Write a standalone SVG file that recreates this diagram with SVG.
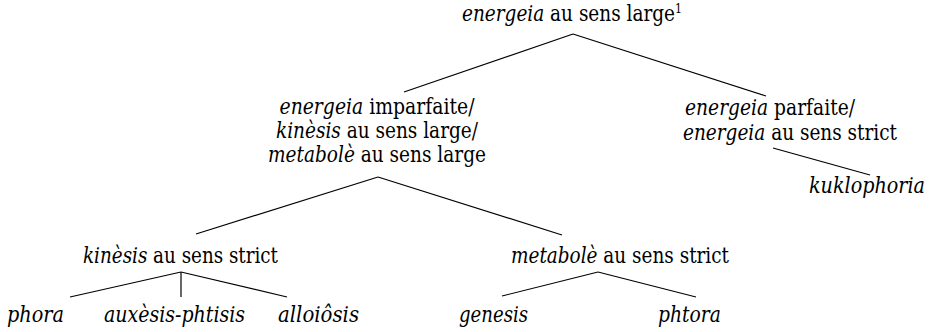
<svg xmlns="http://www.w3.org/2000/svg" width="929" height="332" viewBox="0 0 929 332">
<style>
text { font-family: "DejaVu Serif Condensed", "DejaVu Serif", serif; font-size: 22px; fill: #000; }
.i { font-style: italic; }
.c { text-anchor: middle; }
.sup { font-size: 13px; }
line { stroke: #000; stroke-width: 1.2; }
</style>
<rect width="929" height="332" fill="#fff"/>
<g id="connectors">
  <line x1="573" y1="34" x2="404" y2="92"/>
  <line x1="573" y1="34" x2="766" y2="96"/>
  <line x1="773" y1="148" x2="870" y2="175"/>
  <line x1="378" y1="177" x2="196" y2="234"/>
  <line x1="378" y1="177" x2="562" y2="235"/>
  <line x1="181" y1="272" x2="70" y2="297"/>
  <line x1="181" y1="272" x2="181" y2="297"/>
  <line x1="181" y1="272" x2="287" y2="297"/>
  <line x1="598" y1="272" x2="502" y2="296"/>
  <line x1="598" y1="272" x2="696" y2="297"/>
</g>
<g id="n-root">
  <text x="462" y="21" textLength="220" lengthAdjust="spacingAndGlyphs"><tspan class="i">energeia</tspan> au sens large<tspan class="sup" dy="-8">1</tspan></text>
</g>
<g id="n-imparfaite">
  <text class="c" x="377" y="114" textLength="195" lengthAdjust="spacingAndGlyphs"><tspan class="i">energeia</tspan> imparfaite/</text>
  <text class="c" x="377" y="138" textLength="202" lengthAdjust="spacingAndGlyphs"><tspan class="i">kinèsis</tspan> au sens large/</text>
  <text class="c" x="377" y="162" textLength="218" lengthAdjust="spacingAndGlyphs"><tspan class="i">metabolè</tspan> au sens large</text>
</g>
<g id="n-parfaite">
  <text x="685" y="115" textLength="170" lengthAdjust="spacingAndGlyphs"><tspan class="i">energeia</tspan> parfaite/</text>
  <text x="683" y="140" textLength="214" lengthAdjust="spacingAndGlyphs"><tspan class="i">energeia</tspan> au sens strict</text>
</g>
<g id="n-kuklophoria"><text class="i" x="809" y="193" textLength="116" lengthAdjust="spacingAndGlyphs">kuklophoria</text></g>
<g id="n-kinesis"><text x="83" y="263" textLength="195" lengthAdjust="spacingAndGlyphs"><tspan class="i">kinèsis</tspan> au sens strict</text></g>
<g id="n-metabole"><text x="511" y="263" textLength="218" lengthAdjust="spacingAndGlyphs"><tspan class="i">metabolè</tspan> au sens strict</text></g>
<g id="n-phora"><text class="i" x="7" y="322" textLength="57" lengthAdjust="spacingAndGlyphs">phora</text></g>
<g id="n-auxesis"><text class="i" x="104" y="322" textLength="141" lengthAdjust="spacingAndGlyphs">auxèsis-phtisis</text></g>
<g id="n-alloiosis"><text class="i" x="278" y="322" textLength="81" lengthAdjust="spacingAndGlyphs">alloiôsis</text></g>
<g id="n-genesis"><text class="i" x="459" y="322" textLength="69" lengthAdjust="spacingAndGlyphs">genesis</text></g>
<g id="n-phtora"><text class="i" x="658" y="322" textLength="63" lengthAdjust="spacingAndGlyphs">phtora</text></g>
</svg>
